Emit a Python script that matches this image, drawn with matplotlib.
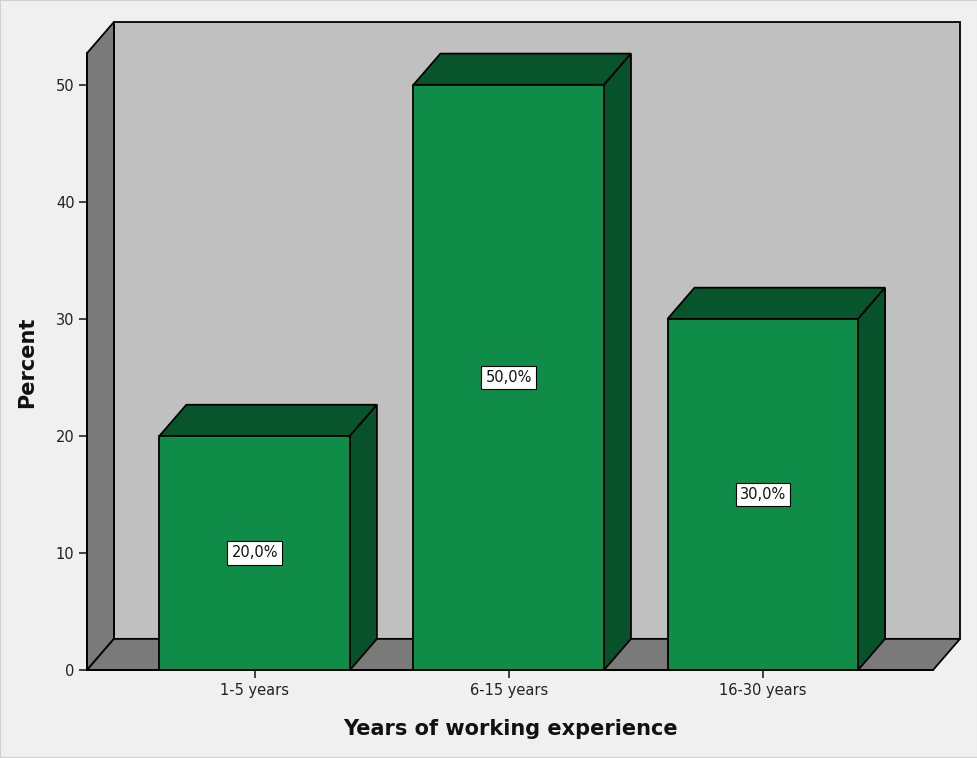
import matplotlib.pyplot as plt
from matplotlib.patches import Polygon, Rectangle

categories = ['1-5 years', '6-15 years', '16-30 years']
percent = [20.0, 50.0, 30.0]
yticks = [0, 10, 20, 30, 40, 50]

# 3D look (data units)
dx, dy = 0.106, 2.66
x0, x1 = -0.66, 2.67
ytop = 52.7
bw = 0.75

fig = plt.figure(figsize=(9.78, 7.58), dpi=100)
fig.patch.set_facecolor('#f0f0f0')
ax = fig.add_axes([87 / 978, 88 / 758, 873 / 978, 648 / 758])
ax.set_xlim(x0, x1 + dx)
ax.set_ylim(0, ytop + dy)
ax.set_facecolor('none')
for s in ax.spines.values():
    s.set_visible(False)

lw = 1.3
ec = 'black'
# back wall, left wall, floor
ax.add_patch(Polygon([(x0 + dx, dy), (x1 + dx, dy), (x1 + dx, ytop + dy), (x0 + dx, ytop + dy)],
                     fc='#c0c0c0', ec=ec, lw=lw, clip_on=False, zorder=1))
ax.add_patch(Polygon([(x0, 0), (x0, ytop), (x0 + dx, ytop + dy), (x0 + dx, dy)],
                     fc='#7a7a7a', ec=ec, lw=lw, clip_on=False, zorder=1))
ax.add_patch(Polygon([(x0, 0), (x1, 0), (x1 + dx, dy), (x0 + dx, dy)],
                     fc='#7a7a7a', ec=ec, lw=lw, clip_on=False, zorder=1))

front = '#0f8c48'
top = '#08552b'
side = '#07522a'
for i, v in enumerate(percent):
    l, r = i - bw / 2, i + bw / 2
    ax.add_patch(Polygon([(l, v), (r, v), (r + dx, v + dy), (l + dx, v + dy)],
                         fc=top, ec=ec, lw=lw, clip_on=False, zorder=2))
    ax.add_patch(Polygon([(r, 0), (r + dx, dy), (r + dx, v + dy), (r, v)],
                         fc=side, ec=ec, lw=lw, clip_on=False, zorder=2))
    ax.add_patch(Rectangle((l, 0), bw, v, fc=front, ec=ec, lw=lw, clip_on=False, zorder=3))
    ax.text(i, v / 2, f'{v:.1f}%'.replace('.', ','), ha='center', va='center',
            fontsize=10.5, family='DejaVu Sans', color='#111111', zorder=4,
            bbox=dict(boxstyle='square,pad=0.28', fc='white', ec='black', lw=0.8))

ax.plot([x0, x0], [0, ytop], color=ec, lw=lw, clip_on=False, zorder=5)
ax.plot([x0, x1], [0, 0], color=ec, lw=lw, clip_on=False, zorder=5)

ax.set_yticks(yticks)
ax.set_yticklabels([str(t) for t in yticks])
ax.set_xticks(range(len(categories)))
ax.set_xticklabels(categories)
ax.tick_params(axis='both', length=6, width=1.2, color='#222222',
               labelsize=10.5, labelcolor='#222222', pad=3)
for t in ax.get_xticklabels() + ax.get_yticklabels():
    t.set_family('DejaVu Sans')

ax.set_xlabel('Years of working experience', fontsize=15, fontweight='bold',
              family='DejaVu Sans', color='#111111')
ax.set_ylabel('Percent', fontsize=15, fontweight='bold',
              family='DejaVu Sans', color='#111111')
ax.xaxis.set_label_coords((510 - 87) / 873, -(719 - 670) / 648)
ax.yaxis.set_label_coords(-(87 - 37) / 873, (670 - 362) / 648)

fig.patches.append(Rectangle((0, 0), 1, 1, transform=fig.transFigure, fill=False,
                             ec='#d0d0d0', lw=1.5))
fig.savefig('out.png', dpi=100, facecolor=fig.get_facecolor())
